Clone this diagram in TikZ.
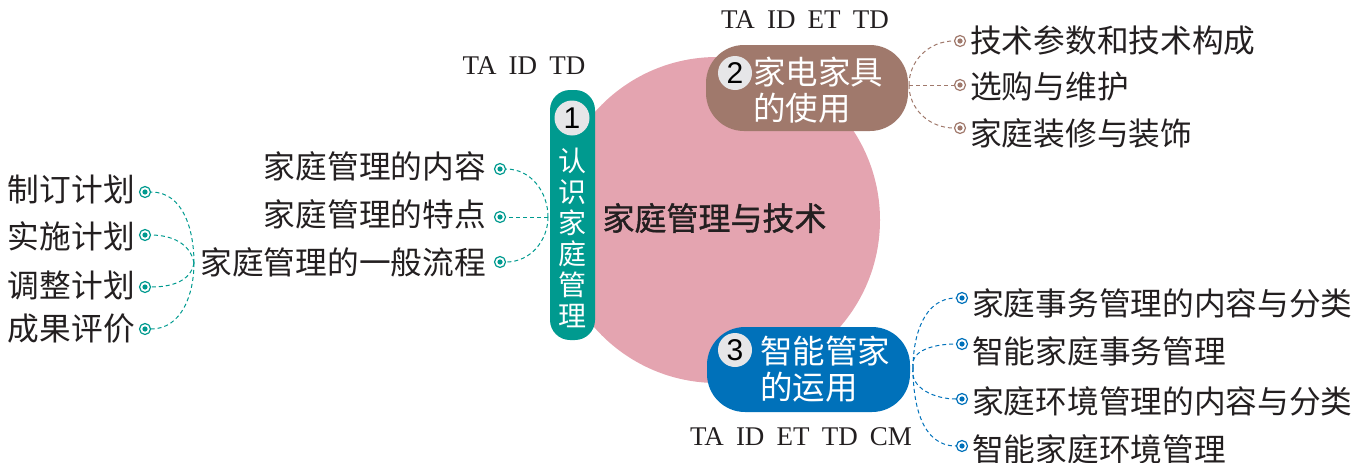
\documentclass[tikz,border=0pt]{standalone}
\usepackage{fontspec}
\setmainfont{Liberation Serif}
\newfontfamily\cjk{Noto Sans CJK SC}
\newfontfamily\cjkb[FakeBold=1.2]{Noto Sans CJK SC}
\newfontfamily\numfont{Liberation Sans}
\newcommand\myfs[2]{\fontsize{#1}{#2}\selectfont}
\newcommand\gap{\hspace{0.45em}}
\definecolor{hubpink}{HTML}{E4A4B0}
\definecolor{tealc}{HTML}{009A8F}
\definecolor{brownc}{HTML}{A0796C}
\definecolor{bluec}{HTML}{0071BA}
\definecolor{greyc}{HTML}{E6E6E8}
\definecolor{inkc}{HTML}{231F20}
\begin{document}
\begin{tikzpicture}[x=1pt,y=-1pt,
  dotmark/.style={circle,draw=#1,line width=1.2pt,fill=white,minimum size=11pt,inner sep=0pt,
    path picture={\fill[#1] (path picture bounding box.center) circle (2.6pt);}},
  link/.style={draw=#1,line width=1pt,dash pattern=on 4pt off 3pt},
  leaf/.style={text=inkc,font=\cjk\myfs{31.7}{36},inner sep=0pt},
  tag/.style={text=inkc,font=\myfs{27}{30},inner sep=0pt},
  numc/.style={circle,fill=greyc,minimum size=34pt,inner sep=0pt,text=black,font=\numfont\myfs{30}{30}},
  boxtext/.style={text=white,font=\cjk\myfs{32.5}{36},align=left,inner sep=0pt},
]
\useasboundingbox (0,0) rectangle (1357,463);
% hub
\node[circle,fill=hubpink,minimum size=326pt,inner sep=0pt] (hub) at (717,220) {};
\node[text=inkc,font=\cjkb\myfs{32}{36},inner sep=0pt] (hubtext) at (714.5,218) {家庭管理与技术};
% branch 1
\node[fill=tealc,rounded corners=20pt,minimum width=45pt,minimum height=250pt,inner sep=0pt] (b1) at (572.5,215) {};
\node[numc,minimum size=35pt] (n1) at (572,118) {1};
\node[text=white,font=\cjk\myfs{28}{31},align=center,inner sep=0pt] (t1) at (572,238) {认\\识\\家\\庭\\管\\理};
\node[tag] (g1) at (524,66) {TA\gap ID\gap TD};
% branch 2
\node[fill=brownc,rounded corners=38pt,minimum width=202pt,minimum height=86pt,inner sep=0pt] (b2) at (807,88) {};
\node[numc] (n2) at (735,73) {2};
\node[boxtext,anchor=west] (t2) at (753,90) {家电家具\\的使用};
\node[tag] (g2) at (805,20) {TA\gap ID\gap ET\gap TD};
% branch 3
\node[fill=bluec,rounded corners=38pt,minimum width=203pt,minimum height=85pt,inner sep=0pt] (b3) at (808.5,369.5) {};
\node[numc] (n3) at (735,350) {3};
\node[boxtext,anchor=west] (t3) at (760,369) {智能管家\\的运用};
\node[tag] (g3) at (801,437) {TA\gap ID\gap ET\gap TD\gap CM};
% branch 1 leaves
\coordinate (j1) at (548,217);
\node[dotmark=tealc] (d11) at (500,169) {};
\node[dotmark=tealc] (d12) at (500,217) {};
\node[dotmark=tealc] (d13) at (500,262) {};
\node[leaf,anchor=east] (l11) at (486,166) {家庭管理的内容};
\node[leaf,anchor=east] (l12) at (486,214) {家庭管理的特点};
\node[leaf,anchor=east] (l13) at (486,262) {家庭管理的一般流程};
\draw[link=tealc] (j1) to[out=90,in=0] (d11);
\draw[link=tealc] (j1) -- (d12);
\draw[link=tealc] (j1) to[out=-90,in=0] (d13);
% sub leaves of l13
\coordinate (j13) at (194,263);
\node[dotmark=tealc] (d21) at (145,192) {};
\node[dotmark=tealc] (d22) at (145,235) {};
\node[dotmark=tealc] (d23) at (145,287) {};
\node[dotmark=tealc] (d24) at (145,329) {};
\node[leaf,anchor=east] (l21) at (135,189) {制订计划};
\node[leaf,anchor=east] (l22) at (135,236) {实施计划};
\node[leaf,anchor=east] (l23) at (135,285) {调整计划};
\node[leaf,anchor=east] (l24) at (135,329) {成果评价};
\draw[link=tealc] (j13) to[out=90,in=0] (d21);
\draw[link=tealc] (j13) to[out=100,in=0] (d22);
\draw[link=tealc] (j13) to[out=-100,in=0] (d23);
\draw[link=tealc] (j13) to[out=-90,in=0] (d24);
% branch 2 leaves
\coordinate (j2) at (909,85);
\node[dotmark=brownc] (d31) at (960,41) {};
\node[dotmark=brownc] (d32) at (960,85) {};
\node[dotmark=brownc] (d33) at (960,128) {};
\node[leaf,anchor=west] (l31) at (970,40) {技术参数和技术构成};
\node[leaf,anchor=west] (l32) at (970,86) {选购与维护};
\node[leaf,anchor=west] (l33) at (970,133) {家庭装修与装饰};
\draw[link=brownc] (j2) to[out=90,in=180] (d31);
\draw[link=brownc] (j2) -- (d32);
\draw[link=brownc] (j2) to[out=-90,in=180] (d33);
% branch 3 leaves
\coordinate (j3) at (913,368);
\node[dotmark=bluec] (d41) at (962,298) {};
\node[dotmark=bluec] (d42) at (962,344) {};
\node[dotmark=bluec] (d43) at (962,399) {};
\node[dotmark=bluec] (d44) at (962,446) {};
\node[leaf,anchor=west] (l41) at (972,303) {家庭事务管理的内容与分类};
\node[leaf,anchor=west] (l42) at (972,351) {智能家庭事务管理};
\node[leaf,anchor=west] (l43) at (972,401) {家庭环境管理的内容与分类};
\node[leaf,anchor=west] (l44) at (972,449) {智能家庭环境管理};
\draw[link=bluec] (j3) to[out=90,in=180] (d41);
\draw[link=bluec] (j3) to[out=100,in=180] (d42);
\draw[link=bluec] (j3) to[out=-100,in=180] (d43);
\draw[link=bluec] (j3) to[out=-90,in=180] (d44);
\end{tikzpicture}
\end{document}
